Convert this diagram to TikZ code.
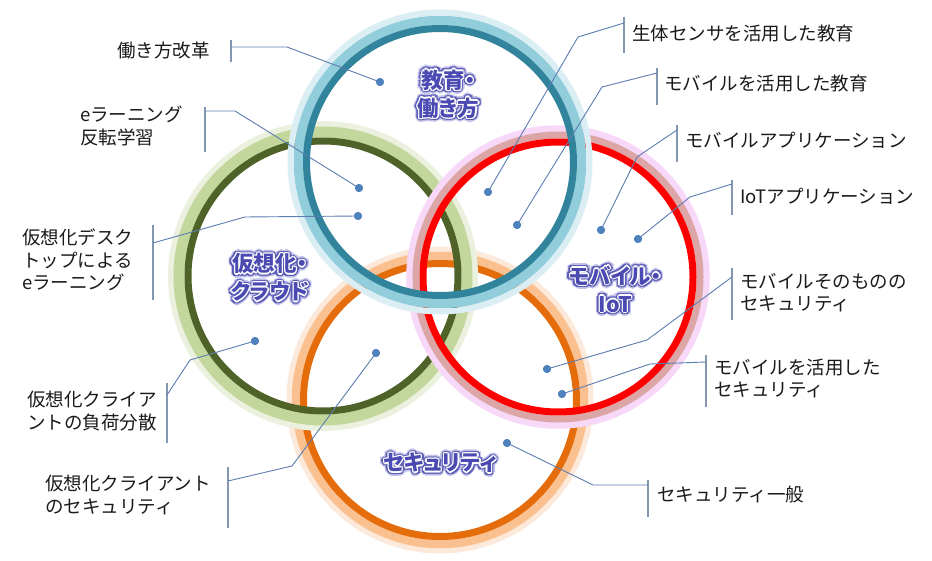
\documentclass[tikz,border=0pt]{standalone}
\usepackage{fontspec}
\newfontfamily\jp{Noto Sans CJK JP}
\newfontfamily\jpt[RawFeature=+palt]{Noto Sans CJK JP}
\usetikzlibrary{calc}
\definecolor{bdark}{HTML}{31849B}
\definecolor{blight}{HTML}{92CDDC}
\definecolor{bpale}{HTML}{DAEEF3}
\definecolor{gdark}{HTML}{4F6228}
\definecolor{glight}{HTML}{C3D69B}
\definecolor{gpale}{HTML}{EBF1DE}
\definecolor{rdark}{HTML}{FF0000}
\definecolor{rlight}{HTML}{DDA6A6}
\definecolor{rpale}{HTML}{F8D8F8}
\definecolor{odark}{HTML}{E46C0A}
\definecolor{olight}{HTML}{FAC090}
\definecolor{opale}{HTML}{FDE9D9}
\definecolor{leadc}{HTML}{5B7DB1}
\definecolor{brkc}{HTML}{8497B0}
\definecolor{dotc}{HTML}{4F81BD}
\definecolor{ttlc}{HTML}{4A4AB2}
\definecolor{halo1}{HTML}{C0C0E8}
\definecolor{halo2}{HTML}{5C5CB6}
\definecolor{txtc}{HTML}{1A1A1A}
\tikzset{
  lbl/.style={font={\jp\fontsize{18.5}{22.5}\selectfont}, text=txtc, inner sep=0pt, align=left, anchor=west},
  ttl/.style={font={\jpt\bfseries\fontsize{21.5}{28}\selectfont}, inner sep=0pt, align=center},
  brk/.style={draw=brkc, line width=1.2pt},
  lead/.style={draw=leadc, line width=0.9pt},
  dot/.style={circle, fill=dotc, inner sep=0pt, minimum size=8pt},
}
\newcommand\glowttl[3]{%
  \foreach \a in {0,30,...,330}{\node[ttl,text=halo1] at ($(#1)+(\a:4.2)$) {#3};}
  \foreach \a in {0,30,...,330}{\node[ttl,text=halo2] at ($(#1)+(\a:2.8)$) {#3};}
  \foreach \a in {0,45,...,315}{\node[ttl,text=white] at ($(#1)+(\a:1.3)$) {#3};}
  \node[ttl,text=ttlc] (#2) at (#1) {#3};
}
\begin{document}
\begin{tikzpicture}[x=1pt,y=-1pt]
\useasboundingbox (0,0) rectangle (932,561);
\fill[white] (0,0) rectangle (932,561);
% ring centres
\coordinate (cO) at (440,400);
\coordinate (cG) at (323,276);
\coordinate (cR) at (558,277);
\coordinate (cB) at (440,162);
% orange ring
\draw[opale, line width=6] (cO) circle (150.5);
\draw[olight, line width=8.5] (cO) circle (144);
\draw[odark, line width=7] (cO) circle (136.5);
% green ring
\draw[gpale, line width=6] (cG) circle (152);
\draw[glight, line width=11] (cG) circle (144);
\draw[gdark, line width=7] (cG) circle (135);
% red ring
\draw[rpale, line width=6.5] (cR) circle (148.5);
\draw[rlight, line width=7] (cR) circle (142);
\draw[rdark, line width=7] (cR) circle (135);
% blue ring
\draw[bpale, line width=6] (cB) circle (149.5);
\draw[blight, line width=9.5] (cB) circle (141.5);
\draw[bdark, line width=7] (cB) circle (133.5);

% dots
\node[dot] (d1) at (380,82) {};
\node[dot] (d2) at (359,188) {};
\node[dot] (d3) at (358,216) {};
\node[dot] (d4) at (255,341) {};
\node[dot] (d5) at (376,353) {};
\node[dot] (d6) at (488,192) {};
\node[dot] (d7) at (517,225) {};
\node[dot] (d8) at (601,230) {};
\node[dot] (d9) at (638,239) {};
\node[dot] (d10) at (547,369) {};
\node[dot] (d11) at (562,394) {};
\node[dot] (d12) at (507,443) {};

% labels
\node[lbl, anchor=east] (t1) at (210,50) {働き方改革};
\node[lbl] (t2) at (80,126) {eラーニング\\反転学習};
\node[lbl] (t3) at (22,260) {仮想化デスク\\トップによる\\eラーニング};
\node[lbl] (t4) at (27,411) {仮想化クライア\\ントの負荷分散};
\node[lbl] (t5) at (45,495) {仮想化クライアント\\のセキュリティ};
\node[lbl] (t6) at (632,34) {生体センサを活用した教育};
\node[lbl] (t7) at (664,84) {モバイルを活用した教育};
\node[lbl] (t8) at (685,140) {モバイルアプリケーション};
\node[lbl] (t9) at (740,196) {IoTアプリケーション};
\node[lbl] (t10) at (740,292.5) {モバイルそのものの\\セキュリティ};
\node[lbl] (t11) at (714,378.5) {モバイルを活用した\\セキュリティ};
\node[lbl] (t12) at (657,494) {セキュリティ一般};

% brackets and leader points
\coordinate (b1a) at (231,40);  \coordinate (b1b) at (231,62);  \coordinate (l1) at (231,47);  \coordinate (k1) at (287,47);
\coordinate (b2a) at (205,107); \coordinate (b2b) at (205,152); \coordinate (l2) at (205,111); \coordinate (k2) at (235,111);
\coordinate (b3a) at (153,225); \coordinate (b3b) at (153,300); \coordinate (l3) at (153,243); \coordinate (k3) at (245,217);
\coordinate (b4a) at (167,383); \coordinate (b4b) at (167,443); \coordinate (l4) at (167,395); \coordinate (k4) at (190,360);
\coordinate (b5a) at (228,467); \coordinate (b5b) at (228,528); \coordinate (l5) at (228,481); \coordinate (k5) at (292,466);
\coordinate (b6a) at (624,17);  \coordinate (b6b) at (624,53);  \coordinate (l6) at (624,23);  \coordinate (k6) at (578,37);
\coordinate (b7a) at (657,68);  \coordinate (b7b) at (657,105); \coordinate (l7) at (657,73);  \coordinate (k7) at (602,87);
\coordinate (b8a) at (677,125); \coordinate (b8b) at (677,162); \coordinate (l8) at (677,130); \coordinate (k8) at (637,157);
\coordinate (b9a) at (732,180); \coordinate (b9b) at (732,215); \coordinate (l9) at (732,184); \coordinate (k9) at (690,197);
\coordinate (b10a) at (732,268); \coordinate (b10b) at (732,320); \coordinate (l10) at (732,277); \coordinate (k10) at (647,340);
\coordinate (b11a) at (706,355); \coordinate (b11b) at (706,407); \coordinate (l11) at (706,362); \coordinate (k11) at (650,364);
\coordinate (b12a) at (648,480); \coordinate (b12b) at (648,517); \coordinate (l12) at (648,485); \coordinate (k12) at (593,485);

\foreach \i in {1,...,12}{
  \draw[brk] (b\i a) -- (b\i b);
  \draw[lead] (l\i) -- (k\i) -- (d\i.center);
}
% redraw dots on top of leaders
\foreach \i in {1,...,12}{ \fill[dotc] (d\i.center) circle (4); }

% circle titles
\coordinate (p1) at (448.5,94);
\coordinate (p2) at (270,277.5);
\coordinate (p3) at (615.5,289);
\coordinate (p4) at (440,463);
\glowttl{p1}{T1}{教育・\\働き方}
\glowttl{p2}{T2}{仮想化・\\クラウド}
\glowttl{p3}{T3}{モバイル・\\IoT}
\glowttl{p4}{T4}{セキュリティ}
\end{tikzpicture}
\end{document}
